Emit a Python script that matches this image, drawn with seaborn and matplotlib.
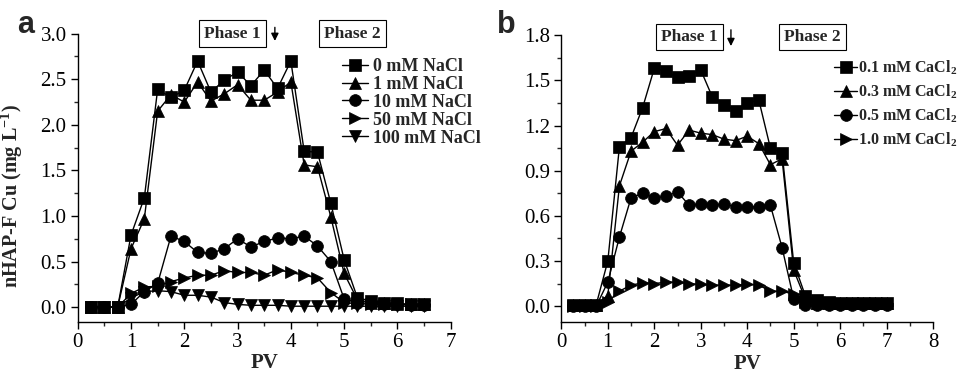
import numpy as np
import pandas as pd
import matplotlib
matplotlib.use("Agg")
import matplotlib.pyplot as plt
from matplotlib.ticker import MultipleLocator
import seaborn as sns

# Panel a: NaCl series, PV from 0.25 to 6.5
pv_a = [0.25, 0.5, 0.75, 1.0, 1.25, 1.5, 1.75, 2.0, 2.25, 2.5, 2.75, 3.0, 3.25,
        3.5, 3.75, 4.0, 4.25, 4.5, 4.75, 5.0, 5.25, 5.5, 5.75, 6.0, 6.25, 6.5]
nacl_0 = [0.0, 0.0, 0.0, 0.79, 1.20, 2.39, 2.30, 2.38, 2.70, 2.36, 2.49, 2.58, 2.43,
          2.60, 2.40, 2.70, 1.71, 1.70, 1.14, 0.52, 0.10, 0.07, 0.05, 0.04, 0.03, 0.03]
nacl_1 = [0.0, 0.0, 0.0, 0.64, 0.97, 2.15, 2.33, 2.25, 2.47, 2.26, 2.34, 2.44, 2.27,
          2.27, 2.36, 2.47, 1.56, 1.54, 0.99, 0.37, 0.08, 0.05, 0.04, 0.03, 0.03, 0.03]
nacl_10 = [0.0, 0.0, 0.0, 0.03, 0.17, 0.26, 0.78, 0.72, 0.60, 0.59, 0.64, 0.75, 0.66,
           0.72, 0.76, 0.75, 0.78, 0.67, 0.50, 0.09, 0.05, 0.04, 0.03, 0.03, 0.02, 0.02]
nacl_50 = [0.0, 0.0, 0.0, 0.15, 0.22, 0.23, 0.28, 0.32, 0.35, 0.35, 0.40, 0.38, 0.38,
           0.35, 0.41, 0.38, 0.35, 0.32, 0.16, 0.05, 0.04, 0.03, 0.03, 0.03, 0.03, 0.03]
nacl_100 = [0.0, 0.0, 0.0, 0.10, 0.17, 0.18, 0.17, 0.13, 0.13, 0.11, 0.05, 0.03, 0.02,
            0.02, 0.02, 0.01, 0.01, 0.01, 0.01, 0.01, 0.01, 0.01, 0.01, 0.01, 0.01, 0.01]
labels_a = ["0 mM NaCl", "1 mM NaCl", "10 mM NaCl", "50 mM NaCl", "100 mM NaCl"]

# Panel b: CaCl2 series, PV from 0.25 to 7.0
pv_b = [0.25, 0.5, 0.75, 1.0, 1.25, 1.5, 1.75, 2.0, 2.25, 2.5, 2.75, 3.0, 3.25, 3.5,
        3.75, 4.0, 4.25, 4.5, 4.75, 5.0, 5.25, 5.5, 5.75, 6.0, 6.25, 6.5, 6.75, 7.0]
cacl_01 = [0.01, 0.01, 0.01, 0.30, 1.06, 1.12, 1.32, 1.58, 1.56, 1.52, 1.53, 1.57, 1.39, 1.34,
           1.30, 1.35, 1.37, 1.05, 1.02, 0.29, 0.07, 0.04, 0.03, 0.02, 0.02, 0.02, 0.02, 0.02]
cacl_03 = [0.01, 0.01, 0.01, 0.07, 0.80, 1.03, 1.09, 1.16, 1.18, 1.07, 1.17, 1.15, 1.14, 1.11,
           1.10, 1.13, 1.08, 0.94, 0.98, 0.24, 0.05, 0.02, 0.02, 0.02, 0.02, 0.02, 0.02, 0.02]
cacl_05 = [0.0, 0.0, 0.0, 0.16, 0.46, 0.72, 0.75, 0.72, 0.73, 0.76, 0.67, 0.68, 0.67, 0.68,
           0.66, 0.66, 0.66, 0.67, 0.39, 0.05, 0.01, 0.01, 0.01, 0.01, 0.01, 0.01, 0.01, 0.01]
cacl_10 = [0.0, 0.0, 0.0, 0.03, 0.10, 0.14, 0.155, 0.15, 0.16, 0.16, 0.15, 0.145, 0.14, 0.14,
           0.14, 0.145, 0.14, 0.10, 0.10, 0.08, 0.03, 0.02, 0.02, 0.02, 0.02, 0.02, 0.02, 0.02]
labels_b = ["0.1 mM CaCl$_2$", "0.3 mM CaCl$_2$", "0.5 mM CaCl$_2$", "1.0 mM CaCl$_2$"]

markers = ["s", "^", "o", ">", "v"]

sns.set_style("ticks")
plt.rcParams['font.family'] = ['Liberation Serif', 'DejaVu Serif']
plt.rcParams['mathtext.default'] = 'regular'
plt.rcParams['xtick.direction'] = 'out'
plt.rcParams['ytick.direction'] = 'out'

fig = plt.figure(figsize=(9.68, 3.76), dpi=100)
ax_a = fig.add_axes([0.0803, 0.1444, 0.3853, 0.766])
ax_b = fig.add_axes([0.5799, 0.1436, 0.3840, 0.7625])


def draw_series(ax, x, series, labels):
    for ys, lab, m in zip(series, labels, markers):
        df = pd.DataFrame({"PV": x, "Cu": ys})
        sns.lineplot(data=df, x="PV", y="Cu", ax=ax, color="k", marker=m,
                     markersize=8.5, markeredgecolor="k", markeredgewidth=0.5,
                     linewidth=1.0, label=lab, clip_on=False)


def style_axis(ax, xmax, ymin, ymax, ymajor, yminor, fmt):
    ax.set_xlim(0, xmax)
    ax.set_ylim(ymin, ymax)
    ax.xaxis.set_major_locator(MultipleLocator(1))
    ax.xaxis.set_minor_locator(MultipleLocator(0.5))
    ax.yaxis.set_major_locator(MultipleLocator(ymajor))
    ax.yaxis.set_minor_locator(MultipleLocator(yminor))
    ax.yaxis.set_major_formatter(plt.FormatStrFormatter(fmt))
    ax.tick_params(which='major', length=5, width=1, labelsize=15, colors='k', pad=3)
    ax.tick_params(which='minor', length=3, width=1)
    for s in ["top", "right"]:
        ax.spines[s].set_visible(False)
    for s in ["left", "bottom"]:
        ax.spines[s].set_linewidth(1.0)
        ax.spines[s].set_color('k')
    ax.set_xlabel("PV", fontsize=15, fontweight='bold', labelpad=1)


draw_series(ax_a, pv_a, [nacl_0, nacl_1, nacl_10, nacl_50, nacl_100], labels_a)
draw_series(ax_b, pv_b, [cacl_01, cacl_03, cacl_05, cacl_10], labels_b)

style_axis(ax_a, 7, -0.16, 3.0, 0.5, 0.25, '%.1f')
style_axis(ax_b, 8, -0.105, 1.8, 0.3, 0.15, '%.1f')
ax_a.set_ylabel("nHAP-F Cu (mg L$^{-1}$)", fontsize=14.5, fontweight='bold')
ax_a.yaxis.set_label_coords(-0.141, 0.435)
ax_b.set_ylabel("")

leg_a = ax_a.legend(loc="upper left", bbox_to_anchor=(342 / 968, 1 - 58 / 376),
                    bbox_transform=fig.transFigure, frameon=False,
                    prop={'weight': 'bold', 'size': 13}, handlelength=1.45,
                    handletextpad=0.25, labelspacing=0.05, borderpad=0, borderaxespad=0)
leg_b = ax_b.legend(loc="upper left", bbox_to_anchor=(834 / 968, 1 - 59 / 376),
                    bbox_transform=fig.transFigure, frameon=False,
                    prop={'weight': 'bold', 'size': 11.5}, handlelength=1.45,
                    handletextpad=0.08, labelspacing=0.35, borderpad=0, borderaxespad=0)

box = dict(boxstyle="square,pad=0.3", fc="white", ec="k", lw=0.8)
for ax, p1, p2, arr_x, arr_y0, arr_y1, ytxt in [
        (ax_a, 2.91, 5.16, 3.70, 3.10, 2.89, 3.0),
        (ax_b, 2.75, 5.41, 3.65, 1.855, 1.71, 1.79)]:
    ax.text(p1, ytxt, "Phase 1", ha="center", va="center", fontsize=12.5,
            fontweight='bold', bbox=box, clip_on=False)
    ax.text(p2, ytxt, "Phase 2", ha="center", va="center", fontsize=12.5,
            fontweight='bold', bbox=box, clip_on=False)
    ax.annotate("", xy=(arr_x, arr_y1), xytext=(arr_x, arr_y0),
                arrowprops=dict(arrowstyle="-|>", color="k", lw=1.0, mutation_scale=11),
                annotation_clip=False)

fig.text(17 / 968, 1 - 33 / 376, "a", fontsize=22, fontweight='bold',
         family=['Liberation Sans', 'DejaVu Sans'])
fig.text(497 / 968, 1 - 33 / 376, "b", fontsize=22, fontweight='bold',
         family=['Liberation Sans', 'DejaVu Sans'])

plt.savefig("out.png", dpi=100)
